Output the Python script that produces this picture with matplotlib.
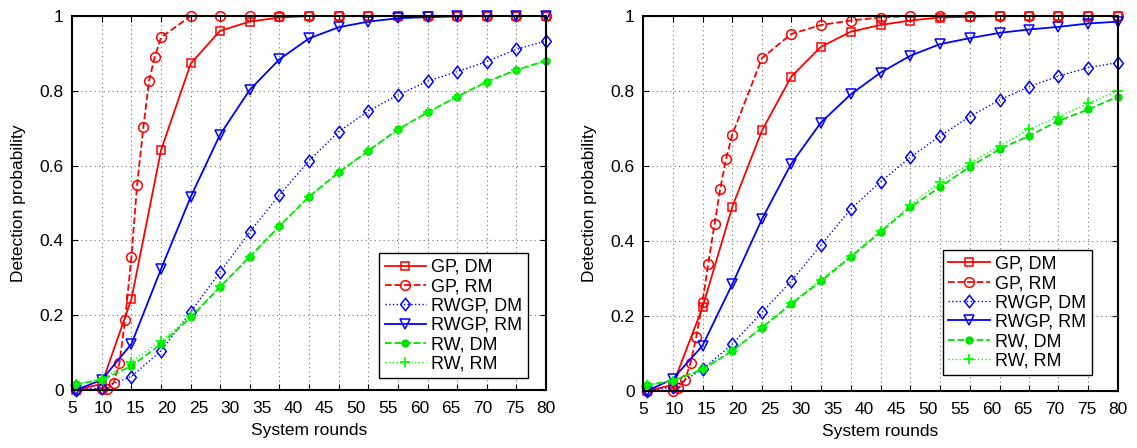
import numpy as np
import matplotlib.pyplot as plt
from matplotlib.path import Path

plt.rcParams['font.family'] = ['Liberation Sans', 'DejaVu Sans']
plt.rcParams['font.size'] = 12.5

# system rounds where each curve is sampled
rounds = [5.6, 9.7, 14.4, 19.1, 23.8, 28.4, 33.1, 37.8, 42.5, 47.2, 51.9,
          56.6, 61.3, 65.9, 70.6, 75.3, 80.0]
# GP with RM is sampled finer over its steep rise
rounds_fine = [5.6, 9.7, 10.6, 11.6, 12.5, 13.4, 14.4, 15.3, 16.3, 17.2, 18.1,
               19.1, 23.8, 28.4, 33.1, 37.8, 42.5, 47.2, 51.9, 56.6, 61.3,
               65.9, 70.6, 75.3, 80.0]
tick_labels = [5, 10, 15, 20, 25, 30, 35, 40, 45, 50, 55, 60, 65, 70, 75, 80]

# left panel
left_gp_dm = [0, 0.016, 0.243, 0.642, 0.873, 0.96, 0.985, 0.996, 1, 1, 1, 1, 1, 1, 1, 1, 1]
left_gp_rm = [0, 0.002, 0.002, 0.02, 0.071, 0.187, 0.356, 0.548, 0.704, 0.827, 0.891,
              0.943, 1, 1, 1, 1, 1, 1, 1, 1, 1, 1, 1, 1, 1]
left_rwgp_dm = [0, 0.005, 0.036, 0.105, 0.209, 0.315, 0.422, 0.521, 0.613, 0.691, 0.746,
                0.789, 0.826, 0.851, 0.878, 0.911, 0.933]
left_rwgp_rm = [0, 0.027, 0.123, 0.324, 0.517, 0.682, 0.802, 0.884, 0.94, 0.97, 0.985,
                0.994, 0.997, 0.999, 1.0, 1.0, 1.0]
left_rw_dm = [0.015, 0.027, 0.064, 0.123, 0.194, 0.275, 0.356, 0.438, 0.517, 0.582, 0.64,
              0.697, 0.743, 0.784, 0.824, 0.856, 0.88]
left_rw_rm = [0.015, 0.03, 0.076, 0.131, 0.197, 0.277, 0.356, 0.437, 0.516, 0.58, 0.64,
              0.695, 0.742, 0.784, 0.822, 0.855, 0.88]

# right panel
right_gp_dm = [0, 0.016, 0.223, 0.491, 0.695, 0.838, 0.918, 0.958, 0.976, 0.988, 0.996,
               0.998, 1, 1, 1, 1, 1]
right_gp_rm = [0, 0.001, 0.007, 0.029, 0.074, 0.143, 0.238, 0.34, 0.445, 0.54, 0.618,
               0.684, 0.888, 0.952, 0.976, 0.988, 0.996, 1, 1, 1, 1, 1, 1, 1, 1]
right_rwgp_dm = [0, 0.01, 0.058, 0.125, 0.21, 0.293, 0.389, 0.485, 0.558, 0.623, 0.68,
                 0.732, 0.776, 0.811, 0.84, 0.862, 0.876]
right_rwgp_rm = [0, 0.032, 0.121, 0.285, 0.459, 0.606, 0.716, 0.791, 0.849, 0.894, 0.925,
                 0.941, 0.955, 0.964, 0.971, 0.98, 0.985]
right_rw_dm = [0.016, 0.027, 0.058, 0.107, 0.169, 0.232, 0.293, 0.357, 0.424, 0.49, 0.544,
               0.598, 0.645, 0.68, 0.72, 0.751, 0.785]
right_rw_rm = [0.016, 0.027, 0.058, 0.107, 0.17, 0.235, 0.297, 0.36, 0.427, 0.495, 0.558,
               0.607, 0.653, 0.698, 0.731, 0.767, 0.8]

# slightly squashed diamond, wider than matplotlib's 'd'
diamond = Path([(0, 1), (0.78, 0), (0, -1), (-0.78, 0), (0, 1)],
               [Path.MOVETO, Path.LINETO, Path.LINETO, Path.LINETO, Path.CLOSEPOLY])


def draw_panel(ax, gp_dm, gp_rm, rwgp_dm, rwgp_rm, rw_dm, rw_rm, leg_anchor):
    kw = dict(clip_on=False, markersize=7, markeredgewidth=1.1)
    ax.plot(rounds, gp_dm, '-', color='#ff0000', marker='s', mfc='none',
            markersize=5.5, lw=1.3, label='GP, DM', clip_on=False, markeredgewidth=1.1)
    ax.plot(rounds_fine, gp_rm, '--', color='#ff0000', marker='o', mfc='none',
            lw=1.3, label='GP, RM', **kw)
    ax.plot(rounds, rwgp_dm, ':', color='#0000ff', marker=diamond, mfc='none',
            lw=1.0, label='RWGP, DM', clip_on=False, markersize=9, markeredgewidth=1.1)
    ax.plot(rounds, rwgp_rm, '-', color='#0000ff', marker='v', mfc='none',
            lw=1.3, label='RWGP, RM', clip_on=False, markersize=7.5, markeredgewidth=1.1)
    ax.plot(rounds, rw_dm, '--', color='#00e000', marker='o', mfc='#00e000',
            markersize=5, lw=1.3, label='RW, DM', clip_on=False)
    ax.plot(rounds, rw_rm, ':', color='#00ff00', marker='+', markersize=7,
            markeredgewidth=1.3, lw=1.0, label='RW, RM', clip_on=False)

    ax.set_xlim(5, 80)
    ax.set_ylim(0, 1)
    ax.set_xticks(tick_labels)
    ax.set_xticklabels([str(t) for t in tick_labels])
    ax.set_xticks(rounds[1:-1], minor=True)
    ax.set_yticks([0, 0.2, 0.4, 0.6, 0.8, 1])
    ax.set_yticklabels(['0', '0.2', '0.4', '0.6', '0.8', '1'])
    ax.tick_params(axis='x', which='major', length=0, pad=8)
    ax.tick_params(axis='x', which='minor', direction='in', length=4,
                   top=True, bottom=True, width=0.8)
    ax.tick_params(axis='y', which='major', direction='in', length=4,
                   left=True, right=True, width=0.8, pad=6)
    ax.grid(True, which='minor', axis='x', ls=(0, (1, 3)), color='0.45', lw=0.8)
    ax.grid(True, which='major', axis='y', ls=(0, (1, 3)), color='0.45', lw=0.8)
    for s in ax.spines.values():
        s.set_linewidth(1.5)
    ax.set_xlabel('System rounds', labelpad=5)
    ax.set_ylabel('Detection probability', labelpad=10)
    leg = ax.legend(loc='lower right', bbox_to_anchor=leg_anchor, borderaxespad=0,
                    fancybox=False, edgecolor='black', framealpha=1, handlelength=2.3,
                    labelspacing=0.13, borderpad=0.3, handletextpad=0.3, fontsize=13)
    leg.get_frame().set_linewidth(1.0)


fig = plt.figure(figsize=(11.37, 4.48), dpi=100)
ax1 = fig.add_axes([72 / 1137, 58 / 448, 474 / 1137, 374 / 448])
ax2 = fig.add_axes([643 / 1137, 57 / 448, 475 / 1137, 375 / 448])

draw_panel(ax1, left_gp_dm, left_gp_rm, left_rwgp_dm, left_rwgp_rm, left_rw_dm, left_rw_rm,
           (0.962, 0.032))
draw_panel(ax2, right_gp_dm, right_gp_rm, right_rwgp_dm, right_rwgp_rm, right_rw_dm, right_rw_rm,
           (0.945, 0.043))

fig.savefig('out.png', dpi=100)
